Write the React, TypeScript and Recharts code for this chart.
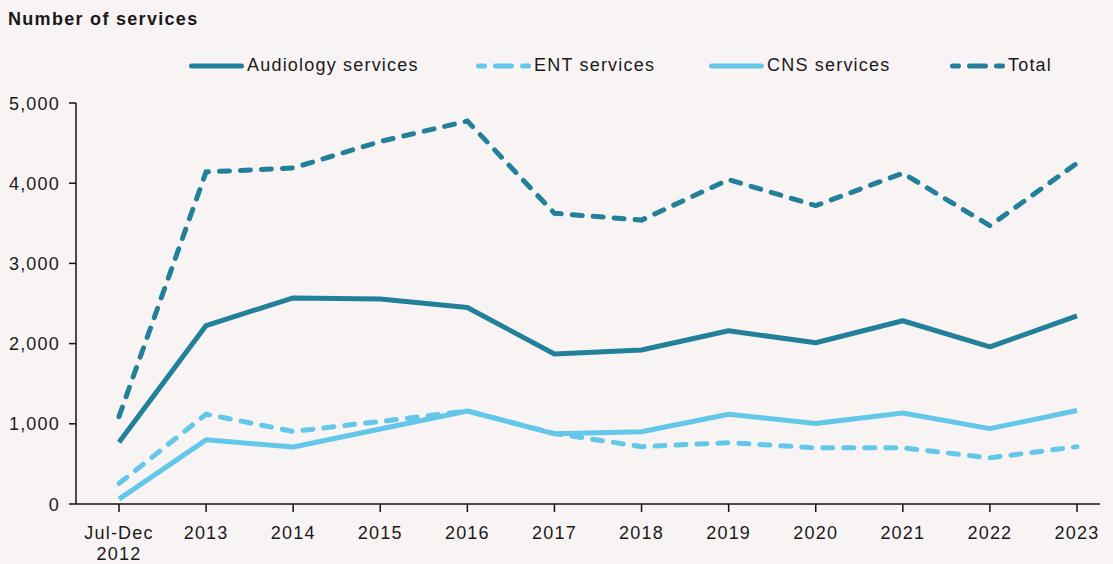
import React from 'react';
import { LineChart, Line, XAxis, YAxis } from 'recharts';

const years = ['Jul-Dec\n2012', '2013', '2014', '2015', '2016', '2017', '2018', '2019', '2020', '2021', '2022', '2023'];
const audiology = [770, 2225, 2570, 2555, 2450, 1870, 1920, 2160, 2010, 2285, 1960, 2345];
const ent = [255, 1120, 905, 1030, 1160, 880, 715, 765, 700, 700, 575, 715];
const cns = [60, 800, 710, 935, 1160, 875, 900, 1120, 1005, 1135, 940, 1165];
const total = [1090, 4140, 4190, 4520, 4775, 3625, 3540, 4045, 3720, 4125, 3470, 4250];
const yTicks = [0, 1000, 2000, 3000, 4000, 5000];

const DARK = '#22809b';
const LIGHT = '#62c7e9';
const BG = '#f9f4f4';
const INK = '#1a1a1a';
const FONT = '"Liberation Sans", Arial, sans-serif';

const data = years.map((y, i) => ({
  year: y,
  audiology: audiology[i],
  ent: ent[i],
  cns: cns[i],
  total: total[i],
}));

// legend look, in series order
const seriesStyle = [
  { key: 'audiology', label: 'Audiology services', color: DARK, dashed: false, w: 287 },
  { key: 'ent', label: 'ENT services', color: LIGHT, dashed: true, w: 233 },
  { key: 'cns', label: 'CNS services', color: LIGHT, dashed: false, w: 241 },
  { key: 'total', label: 'Total', color: DARK, dashed: true, w: 120 },
];

const fmt = (v: number) => v.toLocaleString('en-US');

function XTick({ x, y, payload }: any) {
  const lines = String(payload.value).split('\n');
  return (
    <g transform={`translate(${x},${y})`}>
      {lines.map((l, i) => (
        <text key={i} x={0} y={25 + i * 21} textAnchor="middle" fill={INK}
          style={{ fontFamily: FONT, fontSize: 18, letterSpacing: 1.2 }}>{l}</text>
      ))}
    </g>
  );
}

function YTick({ x, y, payload }: any) {
  return (
    <text x={x} y={y + 6.5} textAnchor="end" fill={INK}
      style={{ fontFamily: FONT, fontSize: 18, letterSpacing: 1.2 }}>{fmt(payload.value)}</text>
  );
}

function LegendBox() {
  return (
    <div style={{ position: 'absolute', top: 55, left: 189, display: 'flex', alignItems: 'center', fontFamily: FONT, fontSize: 18, letterSpacing: 1.2, color: INK }}>
      {seriesStyle.map(s => (
        <div key={s.key} style={{ width: s.w, display: 'flex', alignItems: 'center' }}>
          <svg width={57} height={10} style={{ marginRight: 1 }}>
            <line x1={2.5} y1={5} x2={52.5} y2={5} stroke={s.color} strokeWidth={5} strokeLinecap="round"
              strokeDasharray={s.dashed ? '6 11 16 11 6 100' : undefined} />
          </svg>
          <span>{s.label}</span>
        </div>
      ))}
    </div>
  );
}

export default function App() {
  return (
    <div style={{ position: 'absolute', left: 0, top: 0, width: 1113, height: 564, background: BG }}>
      <div style={{ position: 'absolute', left: 8, top: 9, fontFamily: FONT, fontWeight: 700, fontSize: 18, letterSpacing: 1.3, color: INK, lineHeight: '20px' }}>
        Number of services
      </div>
      <LegendBox />
      <LineChart width={1113} height={564} data={data} margin={{ top: 103, right: 13, bottom: 4, left: 0 }}>
        <XAxis dataKey="year" padding={{ left: 43, right: 23 }} tickSize={8} tickMargin={2}
          stroke="#111" strokeWidth={1.5} tick={<XTick />} interval={0} height={56} />
        <YAxis domain={[0, 5000]} ticks={yTicks} width={76} tickSize={7} tickMargin={9}
          stroke="#111" strokeWidth={1.5} tick={<YTick />} />
        <Line dataKey="audiology" stroke={DARK} strokeWidth={5} dot={false} isAnimationActive={false} strokeLinejoin="round" />
        <Line dataKey="ent" stroke={LIGHT} strokeWidth={5} dot={false} strokeDasharray="10 11" strokeLinecap="round" isAnimationActive={false} />
        <Line dataKey="cns" stroke={LIGHT} strokeWidth={5} dot={false} isAnimationActive={false} strokeLinejoin="round" />
        <Line dataKey="total" stroke={DARK} strokeWidth={5} dot={false} strokeDasharray="10 11" strokeLinecap="round" isAnimationActive={false} />
      </LineChart>
    </div>
  );
}
